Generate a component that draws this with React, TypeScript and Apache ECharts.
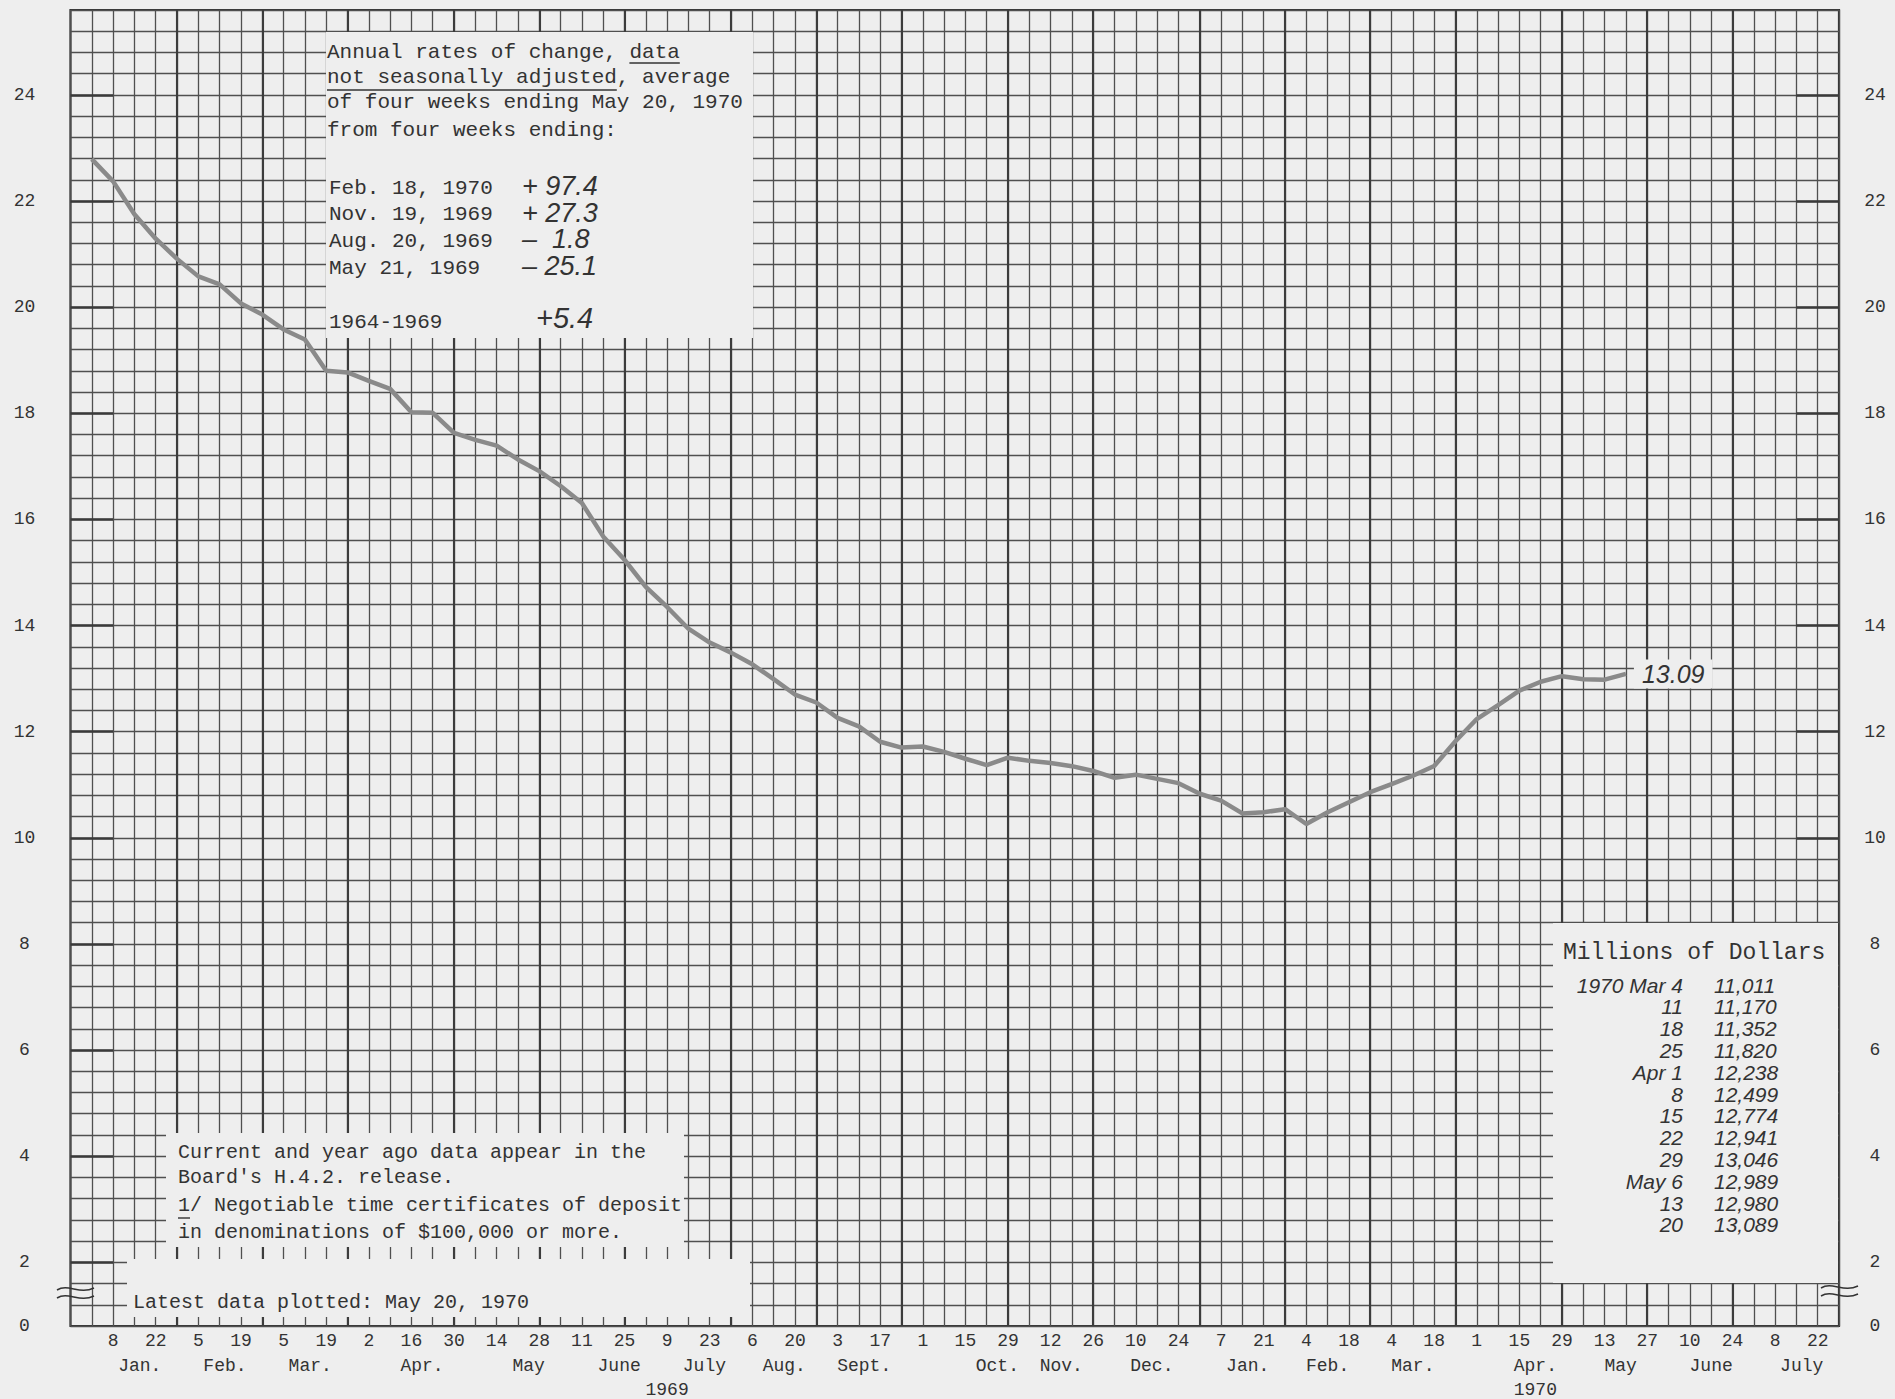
import React, { useEffect, useRef } from "react";
import * as echarts from "echarts";

// ---- data (weeks counted from Wed Dec 25, 1968 = week 0) ----
const startWeek = 1; // first plotted week: Jan 1, 1969
const cdValues = [
  22.79, 22.37, 21.75, 21.29, 20.91, 20.58, 20.43, 20.07, 19.86, 19.58,
  19.39, 18.8, 18.77, 18.61, 18.46, 18.02, 18.01, 17.63, 17.5, 17.39,
  17.13, 16.91, 16.63, 16.31, 15.68, 15.24, 14.73, 14.35, 13.94, 13.68,
  13.49, 13.27, 12.99, 12.7, 12.55, 12.26, 12.1, 11.81, 11.7, 11.72,
  11.62, 11.49, 11.37, 11.51, 11.45, 11.41, 11.35, 11.26, 11.13, 11.19,
  11.11, 11.03, 10.83, 10.7, 10.46, 10.48, 10.54, 10.26, 10.48, 10.67,
  10.86, 11.011, 11.17, 11.352, 11.82, 12.238, 12.499, 12.774, 12.941, 13.046,
  12.989, 12.98, 13.089,
];

const dayLabels = [
  "8", "22", "5", "19", "5", "19", "2", "16", "30", "14", "28", "11", "25",
  "9", "23", "6", "20", "3", "17", "1", "15", "29", "12", "26", "10", "24",
  "7", "21", "4", "18", "4", "18", "1", "15", "29", "13", "27", "10", "24",
  "8", "22",
];
const monthNames = [
  "Jan.", "Feb.", "Mar.", "Apr.", "May", "June", "July", "Aug.", "Sept.",
  "Oct.", "Nov.", "Dec.", "Jan.", "Feb.", "Mar.", "Apr.", "May", "June", "July",
];
const monthPos = [
  3.25, 7.25, 11.25, 16.5, 21.5, 25.75, 29.75, 33.5, 37.25, 43.5, 46.5, 50.75,
  55.25, 59, 63, 68.75, 72.75, 77, 81.25,
];
const yearLabels = ["1969", "1970"];
const yearPos = [28, 68.75];
const monthEndWeeks = [5, 9, 13, 18, 22, 26, 31, 35, 39, 44, 48, 53, 57, 61, 65, 70, 74, 78];
const yLabelValues = [2, 4, 6, 8, 10, 12, 14, 16, 18, 20, 22, 24];
const yZeroPos = 0.8; // axis is broken: "0" is drawn here

const rateLabels = ["Feb. 18, 1970", "Nov. 19, 1969", "Aug. 20, 1969", "May 21, 1969"];
const rateValues = ["+ 97.4", "+ 27.3", "\u2013  1.8", "\u2013 25.1"];
const longRunLabel = "1964-1969";
const longRunValue = "+5.4";
const tableDates = ["1970 Mar 4", "11", "18", "25", "Apr 1", "8", "15", "22", "29", "May 6", "13", "20"];
const tableStartIndex = 61;

const PAPER = "#eeeeee";
const INK = "#333333";
const GRIDC = "#4f4f4f";
const MONO = "'Liberation Mono', 'DejaVu Sans Mono', monospace";
const HAND = "'Liberation Sans', 'DejaVu Sans', sans-serif";

const txt = (x: number, y: number, text: string, o: any = {}) => ({
  type: "text",
  z: 20,
  x,
  y,
  silent: true,
  style: {
    text,
    fill: INK,
    fontFamily: o.family || MONO,
    fontSize: o.size || 20,
    fontStyle: o.italic ? "italic" : "normal",
    lineHeight: o.lineHeight,
    align: o.align || "left",
    verticalAlign: "middle",
    textAlign: o.align || "left",
    textVerticalAlign: "middle",
  },
});
const rect = (x: number, y: number, w: number, h: number) => ({
  type: "rect",
  z: 3,
  silent: true,
  shape: { x, y, width: w, height: h },
  style: { fill: PAPER },
});
const hline = (x1: number, x2: number, y: number, w = 1.6) => ({
  type: "line",
  z: 20,
  silent: true,
  shape: { x1, y1: y, x2, y2: y },
  style: { stroke: INK, lineWidth: w },
});
const wave = (x0: number, x1: number, y: number) => ({
  type: "bezierCurve",
  z: 20,
  silent: true,
  shape: {
    x1: x0, y1: y + 1,
    cpx1: x0 + (x1 - x0) * 0.3, cpy1: y - 6,
    cpx2: x0 + (x1 - x0) * 0.6, cpy2: y + 6,
    x2: x1, y2: y - 1,
  },
  style: { stroke: INK, lineWidth: 1.5, fill: "none" },
});
const fmtMillions = (v: number) => {
  const n = Math.round(v * 1000);
  return `${Math.floor(n / 1000)},${String(n % 1000).padStart(3, "0")}`;
};

export default function App() {
  const ref = useRef<HTMLDivElement>(null);
  useEffect(() => {
    if (!ref.current) return;
    const chart = echarts.init(ref.current, undefined, { renderer: "svg" });
    const cdData = cdValues.map((v, i) => [startWeek + i, v]);
    const dayFmt = (v: number) => {
      const i = Math.round(v);
      if (Math.abs(v - i) > 1e-6 || i % 2 !== 0 || i < 2 || i > 82) return "";
      return dayLabels[(i - 2) / 2];
    };
    const posFmt = (names: string[], pos: number[]) => (v: number) => {
      const k = pos.findIndex((p) => Math.abs(p - v) < 0.01);
      return k >= 0 ? names[k] : "";
    };
    const yFmt = (v: number) => {
      const r = Math.round(v * 10) / 10;
      if (Math.abs(r - yZeroPos) < 1e-6) return "0";
      return yLabelValues.includes(r) ? String(r) : "";
    };
    const axisText = { fontFamily: MONO, fontSize: 18, color: INK };
    const xBase = {
      type: "value",
      min: 0,
      max: 83,
      position: "bottom",
      axisLine: { show: false },
      axisTick: { show: false },
    };
    const yBase = {
      type: "value",
      min: 0.8,
      max: 25.6,
      interval: 0.4,
      axisLine: { show: false },
      axisTick: { show: false },
    };

    const rowY = (i: number) => 985 + i * 21.8;
    const handRow = { size: 21, italic: true, family: HAND, lineHeight: 20 };
    const graphic: any[] = [
      // blank areas of the chart paper
      rect(326, 32, 427, 306),
      rect(166, 1133, 518, 114),
      rect(127, 1259, 623, 58),
      rect(1553, 923, 285, 360),
      // top-left note
      txt(327, 52, "Annual rates of change, data", { size: 21 }),
      txt(327, 77, "not seasonally adjusted, average", { size: 21 }),
      txt(327, 102, "of four weeks ending May 20, 1970", { size: 21 }),
      txt(327, 130, "from four weeks ending:", { size: 21 }),
      hline(327 + 24 * 12.6, 327 + 28 * 12.6, 63),
      hline(327, 327 + 23 * 12.6, 90),
      ...rateLabels.map((t, i) => txt(329, 188 + i * 26.7, t, { size: 21 })),
      ...rateValues.map((t, i) =>
        txt(522, 186 + i * 26.7, t, { size: 27, italic: true, family: HAND, lineHeight: 25 })
      ),
      txt(329, 322, longRunLabel, { size: 21 }),
      txt(536, 318, longRunValue, { size: 29, italic: true, family: HAND }),
      // bottom-left notes
      txt(178, 1152, "Current and year ago data appear in the"),
      txt(178, 1177, "Board's H.4.2. release."),
      txt(178, 1205, "1/ Negotiable time certificates of deposit"),
      txt(178, 1232, "in denominations of $100,000 or more."),
      hline(178, 190, 1218, 1.4),
      txt(133, 1302, "Latest data plotted: May 20, 1970"),
      // table
      txt(1563, 953, "Millions of Dollars", { size: 23 }),
      ...tableDates.map((d, i) => txt(1683, rowY(i), d, { ...handRow, align: "right" })),
      ...cdValues
        .slice(tableStartIndex, tableStartIndex + tableDates.length)
        .map((v, i) => txt(1714, rowY(i), fmtMillions(v), handRow)),
      // axis break marks
      wave(57, 94, 1289),
      wave(57, 94, 1297),
      wave(1821, 1858, 1287),
      wave(1821, 1858, 1295),
    ];

    const option: any = {
      animation: false,
      backgroundColor: PAPER,
      grid: {
        left: 70.5,
        top: 10,
        width: 1768.5,
        height: 1317,
        show: true,
        borderColor: "#333",
        borderWidth: 2.2,
        backgroundColor: "transparent",
      },
      xAxis: [
        {
          ...xBase,
          interval: 1,
          splitLine: { show: true, lineStyle: { color: GRIDC, width: 1.3 } },
          axisLabel: { ...axisText, margin: 6, formatter: dayFmt },
        },
        {
          ...xBase,
          interval: 0.25,
          splitLine: { show: false },
          axisLabel: { ...axisText, margin: 31, formatter: posFmt(monthNames, monthPos) },
        },
        {
          ...xBase,
          interval: 0.25,
          splitLine: { show: false },
          axisLabel: { ...axisText, margin: 55, formatter: posFmt(yearLabels, yearPos) },
        },
      ],
      yAxis: [
        {
          ...yBase,
          position: "left",
          splitLine: { show: true, lineStyle: { color: GRIDC, width: 1.3 } },
          axisLabel: { ...axisText, margin: 46, align: "center", formatter: yFmt },
        },
        {
          ...yBase,
          position: "right",
          splitLine: { show: false },
          axisLabel: { ...axisText, margin: 36, align: "center", formatter: yFmt },
        },
      ],
      series: [
        {
          type: "line",
          name: "grid accents",
          data: cdData,
          xAxisIndex: 0,
          yAxisIndex: 0,
          z: 1,
          silent: true,
          symbol: "none",
          lineStyle: { opacity: 0 },
          markLine: {
            z: 1,
            silent: true,
            symbol: ["none", "none"],
            label: { show: false },
            emphasis: { disabled: true },
            lineStyle: { type: "solid", color: "#3c3c3c", width: 2.1 },
            data: [
              ...monthEndWeeks.map((w) => ({ xAxis: w })),
              ...yLabelValues.flatMap((v) => [
                [{ coord: [0, v], lineStyle: { width: 2.6, color: "#3a3a3a", type: "solid" } }, { coord: [2, v] }],
                [{ coord: [81, v], lineStyle: { width: 2.6, color: "#3a3a3a", type: "solid" } }, { coord: [83, v] }],
              ]),
            ],
          },
        },
        {
          type: "line",
          name: "Negotiable CDs",
          data: cdData,
          xAxisIndex: 0,
          yAxisIndex: 0,
          z: 10,
          symbol: "none",
          showSymbol: false,
          lineStyle: { color: "#8a8a8a", width: 4.5 },
          endLabel: {
            show: true,
            formatter: (p: any) => Number(p.value[1]).toFixed(2),
            distance: 8,
            fontFamily: HAND,
            fontStyle: "italic",
            fontSize: 25,
            color: INK,
            backgroundColor: PAPER,
            padding: [2, 8],
          },
        },
      ],
      graphic,
    };
    chart.setOption(option);
    return () => chart.dispose();
  }, []);
  return (
    <div
      ref={ref}
      style={{ position: "fixed", left: 0, top: 0, width: 1895, height: 1399 }}
    />
  );
}
